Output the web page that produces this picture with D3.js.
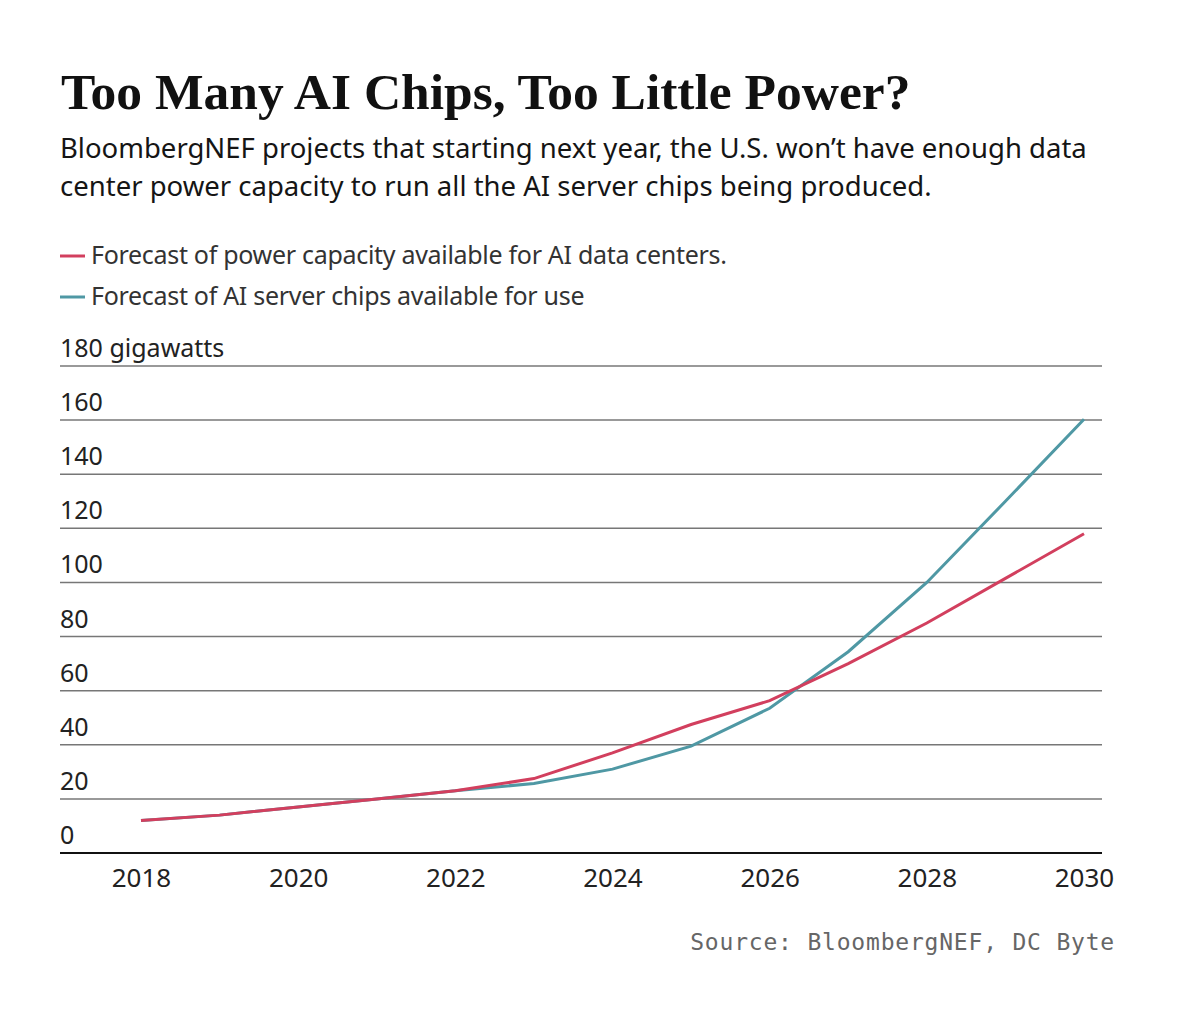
<!DOCTYPE html>
<html>
<head>
<meta charset="utf-8">
<script src="https://cdn.jsdelivr.net/npm/d3@7"></script>
<style>
  body { margin: 0; background: #fff; }
  svg { display: block; }
</style>
</head>
<body>
<div id="chart"></div>
<script>
// data
var years = [2018, 2019, 2020, 2021, 2022, 2023, 2024, 2025, 2026, 2027, 2028, 2029, 2030];
var powerCapacity = [12, 14, 17, 20, 23, 27.5, 37, 47.5, 56.3, 70, 85, 101.5, 118];
var serverChips = [12, 14, 17, 20, 23, 25.7, 31, 39.5, 53.5, 74.4, 100, 130, 160.3];
var yTicks = [0, 20, 40, 60, 80, 100, 120, 140, 160, 180];
var xTicks = [2018, 2020, 2022, 2024, 2026, 2028, 2030];
var legendLabels = ["Forecast of power capacity available for AI data centers.", "Forecast of AI server chips available for use"];

var W = 1179, H = 1031;
var red = "#d23f5e", teal = "#4f98a4";

var svg = d3.select("#chart").append("svg")
    .attr("width", W)
    .attr("height", H);

// title + subtitle
svg.append("text")
    .attr("x", 61).attr("y", 109)
    .attr("font-family", "Liberation Serif, serif")
    .attr("font-weight", "bold")
    .attr("font-size", 51.5)
    .attr("fill", "#111")
    .text("Too Many AI Chips, Too Little Power?");

var sub = ["BloombergNEF projects that starting next year, the U.S. won\u2019t have enough data",
           "center power capacity to run all the AI server chips being produced."];
sub.forEach(function (s, i) {
    svg.append("text")
        .attr("x", 60).attr("y", 158 + i * 38)
        .attr("font-family", "Noto Sans, sans-serif")
        .attr("font-size", 27.5)
        .attr("letter-spacing", 0)
        .attr("fill", "#151515")
        .text(s);
});

// legend
[red, teal].forEach(function (c, i) {
    var ly = 256 + i * 41;
    svg.append("line")
        .attr("x1", 60).attr("x2", 85)
        .attr("y1", ly).attr("y2", ly)
        .attr("stroke", c).attr("stroke-width", 3);
    svg.append("text")
        .attr("x", 91).attr("y", ly + 8)
        .attr("font-family", "Noto Sans, sans-serif")
        .attr("font-size", 25)
        .attr("letter-spacing", -0.3)
        .attr("fill", "#333")
        .text(legendLabels[i]);
});

// scales
var x = d3.scaleLinear().domain([2018, 2030]).range([141, 1084]);
var y = d3.scaleLinear().domain([0, 180]).range([853, 366]);
var gridLeft = 60, gridRight = 1102;

// gridlines
svg.append("g").selectAll("line")
    .data(yTicks)
    .enter().append("line")
    .attr("x1", gridLeft).attr("x2", gridRight)
    .attr("y1", function (d) { return y(d); })
    .attr("y2", function (d) { return y(d); })
    .attr("stroke", function (d) { return d === 0 ? "#111" : "#777"; })
    .attr("stroke-width", function (d) { return d === 0 ? 1.8 : 1.5; });

// y labels sit above each line
svg.append("g").selectAll("text")
    .data(yTicks)
    .enter().append("text")
    .attr("x", gridLeft)
    .attr("y", function (d) { return y(d) - 9; })
    .attr("font-family", "Noto Sans, sans-serif")
    .attr("font-size", 25)
    .attr("fill", "#222")
    .text(function (d) { return d === 180 ? "180 gigawatts" : d; });

// x axis labels
var xAxis = svg.append("g")
    .attr("transform", "translate(0," + y(0) + ")")
    .call(d3.axisBottom(x).tickValues(xTicks).tickFormat(d3.format("d")).tickSize(0).tickPadding(16));
xAxis.select(".domain").remove();
xAxis.selectAll("text")
    .attr("font-family", "Noto Sans, sans-serif")
    .attr("font-size", 26)
    .attr("fill", "#222");

// lines
var line = d3.line()
    .x(function (d, i) { return x(years[i]); })
    .y(function (d) { return y(d); });

svg.append("path")
    .datum(serverChips)
    .attr("d", line)
    .attr("fill", "none")
    .attr("stroke", teal)
    .attr("stroke-width", 3);

svg.append("path")
    .datum(powerCapacity)
    .attr("d", line)
    .attr("fill", "none")
    .attr("stroke", red)
    .attr("stroke-width", 3);

// source
svg.append("text")
    .attr("x", 1115).attr("y", 950)
    .attr("text-anchor", "end")
    .attr("font-family", "DejaVu Sans Mono, monospace")
    .attr("font-size", 23)
    .attr("letter-spacing", 0.8)
    .attr("fill", "#666")
    .text("Source: BloombergNEF, DC Byte");
</script>
</body>
</html>
